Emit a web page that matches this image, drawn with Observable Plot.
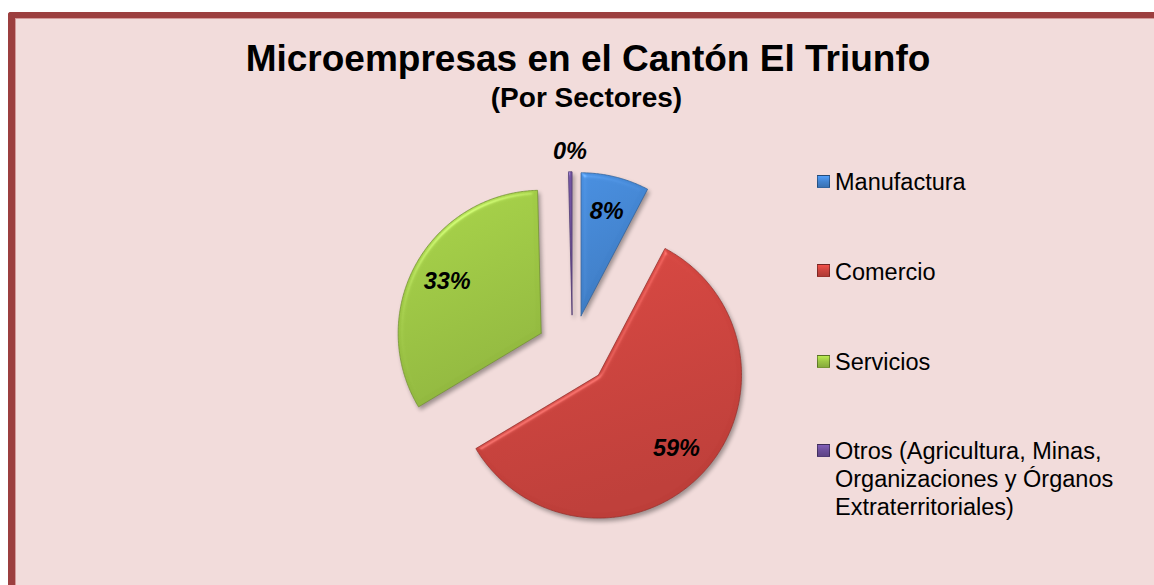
<!DOCTYPE html>
<html>
<head>
<meta charset="utf-8">
<script src="https://cdn.jsdelivr.net/npm/d3@7"></script>
<script src="https://cdn.jsdelivr.net/npm/@observablehq/plot@0.6"></script>
<style>
  html, body { margin: 0; padding: 0; background: #ffffff; overflow: hidden; width: 1154px; height: 585px; }
  body { position: relative; font-family: "Liberation Sans", Arial, sans-serif; }
  #frame {
    position: absolute; left: 8px; top: 12px; width: 1200px; height: 650px;
    background: #f2dcdb; border-left: 7px solid #9c3f3f; border-top: 6px solid #9c3f3f;
    border-top-left-radius: 3px; box-shadow: inset 1px 1px 0 #d49a9a;
  }
  #title { position: absolute; left: 0; width: 1176px; top: 40px; text-align: center;
    font-size: 37px; line-height: 37px; font-weight: bold; color: #000; white-space: nowrap; }
  #subtitle { position: absolute; left: 0; width: 1173px; top: 84px; text-align: center;
    font-size: 28px; line-height: 28px; font-weight: bold; color: #000; white-space: nowrap; }
  #chart { position: absolute; left: 0; top: 0; }
  #legend { position: absolute; left: 0; top: 0; }
  .item { position: absolute; left: 835px; font-size: 23.5px; line-height: 28px; color: #000; white-space: nowrap; }
  .sw { position: absolute; left: 817px; width: 11px; height: 11px; border: 1px solid rgba(0,0,0,0.35); }
</style>
</head>
<body>
<div id="frame"></div>
<div id="title">Microempresas en el Cantón El Triunfo</div>
<div id="subtitle">(Por Sectores)</div>
<div id="chart"></div>
<div id="legend"></div>
<script>
// ---- data ----
const sectors = ["Manufactura", "Comercio", "Servicios", "Otros (Agricultura, Minas, Organizaciones y Órganos Extraterritoriales)"];
const legendLines = [["Manufactura"], ["Comercio"], ["Servicios"], ["Otros (Agricultura, Minas,", "Organizaciones y Órganos", "Extraterritoriales)"]];
const values = [7.7, 58.7, 33.2, 0.4];
const colors = ["#4384d0", "#cb433d", "#9cc544", "#6c4f9a"];

// ---- geometry from d3.pie ----
const EXPLODE = 0.25;
const arcs = d3.pie().sort(null).value(d => d)(values);
const total = d3.sum(values);
const pts = [];
const labelRows = [];
arcs.forEach((a, i) => {
  const mid = (a.startAngle + a.endAngle) / 2;
  const ox = EXPLODE * Math.sin(mid), oy = EXPLODE * Math.cos(mid);
  pts.push({sector: sectors[i], x: ox, y: oy});
  const n = Math.max(2, Math.ceil((a.endAngle - a.startAngle) / 0.01));
  for (let k = 0; k <= n; k++) {
    const t = a.startAngle + (a.endAngle - a.startAngle) * k / n;
    pts.push({sector: sectors[i], x: ox + Math.sin(t), y: oy + Math.cos(t)});
  }
  pts.push({sector: sectors[i], x: ox, y: oy});
  const share = values[i] / total;
  const lr = share < 0.01 ? 1.14 : 0.75;
  labelRows.push({x: ox + lr * Math.sin(mid), y: oy + lr * Math.cos(mid), text: Math.round(share * 100) + "%"});
});

const fills = colors.map((c, i) => `url(#g${i})`);

const plot = Plot.plot({
  width: 1154, height: 585, margin: 0,
  style: {background: "transparent", fontFamily: "'Liberation Sans', Arial, sans-serif"},
  x: {domain: [-572 / 143, (1154 - 572) / 143], axis: null},
  y: {domain: [-(585 - 350) / 143, 350 / 143], axis: null},
  color: {domain: sectors, range: fills},
  marks: [
    Plot.line(pts, {x: "x", y: "y", z: "sector", fill: "sector", stroke: "sector", curve: "linear", strokeWidth: 0.8}),
    Plot.text(labelRows, {x: "x", y: "y", text: "text", fontSize: 23.5, fontWeight: "bold", fontStyle: "italic", fill: "#000"})
  ]
});
document.getElementById("chart").appendChild(plot);

// defs: gradients and bevel filter
const svg = d3.select(plot);
const defs = svg.insert("defs", ":first-child");
colors.forEach((c, i) => {
  const g = defs.append("linearGradient").attr("id", `g${i}`).attr("x1", 0).attr("y1", 0).attr("x2", 0.3).attr("y2", 1);
  g.append("stop").attr("offset", "0%").attr("stop-color", d3.color(c).brighter(0.2));
  g.append("stop").attr("offset", "100%").attr("stop-color", d3.color(c).darker(0.2));
});
const f = defs.append("filter").attr("id", "bevel").attr("filterUnits", "userSpaceOnUse")
  .attr("x", 0).attr("y", 0).attr("width", 1154).attr("height", 585)
  .attr("color-interpolation-filters", "sRGB");
f.append("feGaussianBlur").attr("in", "SourceAlpha").attr("stdDeviation", 2.5).attr("result", "blur");
const sp = f.append("feSpecularLighting").attr("in", "blur").attr("surfaceScale", 3)
  .attr("specularConstant", 0.45).attr("specularExponent", 30).attr("lighting-color", "#ffffff").attr("result", "spec");
sp.append("feDistantLight").attr("azimuth", 235).attr("elevation", 40);
f.append("feComposite").attr("in", "spec").attr("in2", "SourceAlpha").attr("operator", "in").attr("result", "specIn");
f.append("feComposite").attr("in", "SourceGraphic").attr("in2", "specIn").attr("operator", "arithmetic")
  .attr("k1", 0).attr("k2", 1).attr("k3", 0.4).attr("k4", 0).attr("result", "lit");
f.append("feGaussianBlur").attr("in", "SourceAlpha").attr("stdDeviation", 2).attr("result", "sh");
f.append("feOffset").attr("in", "sh").attr("dx", 2).attr("dy", 3).attr("result", "sho");
const ct = f.append("feComponentTransfer").attr("in", "sho").attr("result", "shf");
ct.append("feFuncA").attr("type", "linear").attr("slope", 0.35);
const mg = f.append("feMerge");
mg.append("feMergeNode").attr("in", "shf");
mg.append("feMergeNode").attr("in", "lit");

svg.selectAll("g[aria-label='line'] path").attr("filter", "url(#bevel)")
  .attr("stroke", (d, i) => d3.color(colors[i % colors.length]).darker(0.8));

// legend
const legend = d3.select("#legend");
const itemTops = [168, 258, 348, 437];
const swTops = [175, 264, 355, 444];
legendLines.forEach((lines, i) => {
  const c = d3.color(colors[i]);
  legend.append("div").attr("class", "sw").style("top", swTops[i] + "px")
    .style("background", `linear-gradient(180deg, ${c.brighter(0.5)} 0%, ${c} 50%, ${c.darker(0.4)} 100%)`);
  legend.append("div").attr("class", "item").style("top", itemTops[i] + "px").html(lines.join("<br>"));
});
</script>
</body>
</html>
